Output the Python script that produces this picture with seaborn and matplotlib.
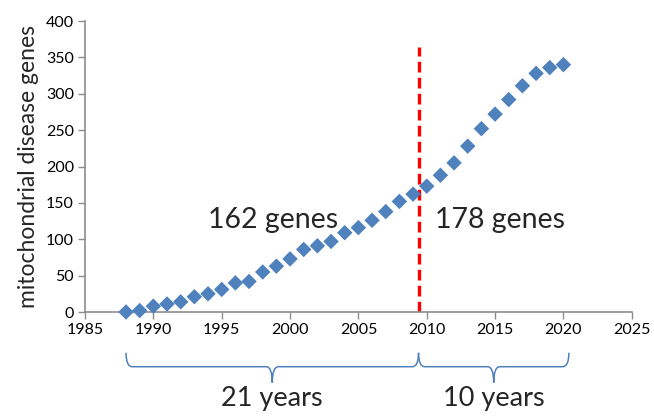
import matplotlib
matplotlib.use("Agg")
import matplotlib.pyplot as plt
from matplotlib.path import Path
from matplotlib.patches import PathPatch
from matplotlib.transforms import blended_transform_factory
import pandas as pd
import seaborn as sns

# cumulative number of mitochondrial disease genes per year
years = list(range(1988, 2021))
genes = [0, 2, 8, 11, 14, 21, 25, 31, 40, 42, 55, 63, 73, 86, 91,
         97, 109, 116, 126, 138, 152, 162, 173, 188, 205, 228, 252,
         272, 292, 311, 328, 336, 340]

split_year = 2009.4
span_labels = ["21 years", "10 years"]
count_labels = ["162 genes", "178 genes"]
xticks = [1985, 1990, 1995, 2000, 2005, 2010, 2015, 2020, 2025]
yticks = [0, 50, 100, 150, 200, 250, 300, 350, 400]

BLUE = "#4F81BD"
GREY = "#8C8C8C"


def brace(ax, x0, x1, y_top, y_mid, y_tip, r=0.45, **kw):
    """Horizontal curly brace under the axis; x in data, y in axes fraction."""
    xm = (x0 + x1) / 2
    verts = [
        (x0, y_top), (x0, y_mid), (x0 + r, y_mid),
        (xm - r, y_mid), (xm, y_mid), (xm, y_tip),
        (xm, y_mid), (xm + r, y_mid),
        (x1 - r, y_mid), (x1, y_mid), (x1, y_top),
    ]
    codes = [Path.MOVETO, Path.CURVE3, Path.CURVE3,
             Path.LINETO, Path.CURVE3, Path.CURVE3,
             Path.CURVE3, Path.CURVE3,
             Path.LINETO, Path.CURVE3, Path.CURVE3]
    trans = blended_transform_factory(ax.transData, ax.transAxes)
    patch = PathPatch(Path(verts, codes), fill=False, transform=trans,
                      clip_on=False, **kw)
    ax.add_patch(patch)


sns.set_theme(style="white")
plt.rcParams["font.family"] = ["Lato", "DejaVu Sans"]

df = pd.DataFrame({"year": years, "genes": genes})

fig = plt.figure(figsize=(6.54, 4.16), dpi=100)
ax = fig.add_axes([0.130, 0.250, 0.836, 0.6995])

sns.scatterplot(data=df, x="year", y="genes", marker="D", s=62,
                color=BLUE, edgecolor="none", ax=ax, zorder=3, clip_on=False)

ax.plot([split_year, split_year], [0, 364], ls=(0, (3.2, 1.6)), lw=2.4,
        color="#FF0000", zorder=2)

ax.set_xlim(1985, 2025)
ax.set_ylim(0, 400)
ax.set_xticks(xticks)
ax.set_yticks(yticks)
ax.tick_params(axis="both", labelsize=11.5, colors="black", length=5,
               width=1, direction="out", color=GREY, pad=3)
ax.tick_params(axis="both", which="both", bottom=True, left=True)
for side in ["top", "right"]:
    ax.spines[side].set_visible(False)
for side in ["left", "bottom"]:
    ax.spines[side].set_color(GREY)
    ax.spines[side].set_linewidth(1.2)

ax.set_xlabel("")
ax.set_ylabel("mitochondrial disease genes", fontsize=16.5, labelpad=5)

ax.text(1998.75, 126, count_labels[0], fontsize=20.5, ha="center", va="center")
ax.text(2015.35, 126, count_labels[1], fontsize=20.5, ha="center", va="center")

brace(ax, years[0], split_year, -0.140, -0.188, -0.243, color=BLUE, lw=1.1)
brace(ax, split_year, 2020.4, -0.140, -0.188, -0.243, color=BLUE, lw=1.1)

# span labels sit at the very bottom edge, as in the original slide
trans = blended_transform_factory(ax.transData, ax.transAxes)
ax.text((years[0] + split_year) / 2, -0.323, span_labels[0], transform=trans,
        fontsize=19.5, ha="center", va="baseline")
ax.text((split_year + 2020.4) / 2, -0.323, span_labels[1], transform=trans,
        fontsize=19.5, ha="center", va="baseline")

fig.savefig("out.png", dpi=100)
